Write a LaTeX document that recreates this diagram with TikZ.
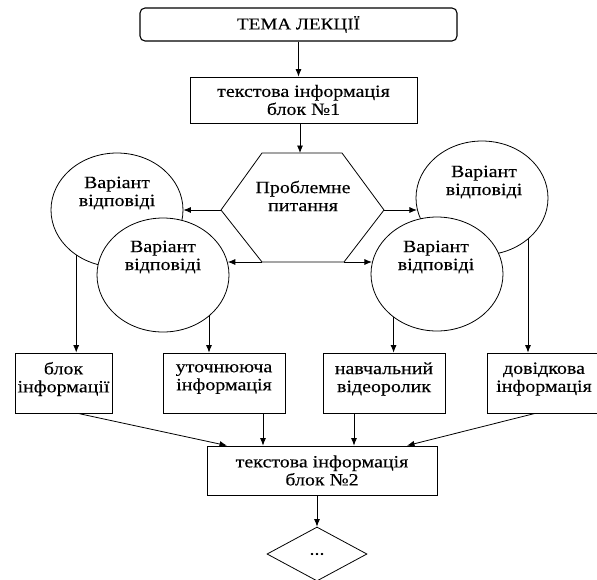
\documentclass[tikz,border=0pt]{standalone}
\usepackage{fontspec}
\setmainfont{Liberation Serif}[FakeStretch=1.16,FakeBold=0.25]
\usetikzlibrary{shapes.geometric,arrows.meta,calc}
\begin{document}
\begin{tikzpicture}[x=1pt,y=-1pt,
  line width=0.8pt,
  arr/.style={-{Latex[length=7.5pt,width=6pt]}},
  lbl/.style={align=center, inner sep=0pt, font=\fontsize{17.2}{18}\selectfont},
  box/.style={lbl, draw, rectangle, fill=white},
  ell/.style={draw, ellipse, minimum width=132pt, minimum height=114pt, inner sep=0pt, fill=white}
]
\useasboundingbox (0,0) rectangle (597,579);
\clip (0,0) rectangle (597,579);

% top blocks
\node[box, rounded corners=5pt, minimum width=317pt, minimum height=33pt, line width=1.1pt, font=\fontsize{16.5}{18}\selectfont] (t) at (298.5,24.5) {ТЕМА ЛЕКЦІЇ};
\node[box, minimum width=227pt, minimum height=46pt] (b1) at (303.5,100) {текстова інформація\\блок №1};

% hexagon
\coordinate (hL) at (221,210);
\coordinate (hTL) at (262,153);
\coordinate (hT) at (300,153);
\coordinate (hTR) at (342,153);
\coordinate (hR) at (384,210);
\coordinate (hBR) at (344,262);
\coordinate (hBL) at (262,262);
\draw (hL) -- (hTL) -- (hTR) -- (hR) -- (hBR) -- (hBL) -- cycle;
\node[lbl] (prob) at (303,196) {Проблемне\\питання};

% answer variants
\node[ell] (c1) at (117,210) {};
\node[lbl] (c1t) at (117,193) {Варіант\\відповіді};
\node[ell] (c2) at (163,275) {};
\node[lbl] (c2t) at (163,257) {Варіант\\відповіді};
\node[ell] (c3) at (482,198) {};
\node[lbl] (c3t) at (484,182) {Варіант\\відповіді};
\node[ell] (c4) at (437,274) {};
\node[lbl] (c4t) at (436,257) {Варіант\\відповіді};

% lower boxes (frames, then their texts)
\node[box, minimum width=97pt, minimum height=60pt] (bA) at (63.5,383) {};
\node[lbl] (bAt) at (63.5,379) {блок\\інформації};
\node[box, minimum width=122pt, minimum height=60pt] (bB) at (224,383) {};
\node[lbl] (bBt) at (224,379) {уточнююча\\інформація};
\node[box, minimum width=122pt, minimum height=60pt] (bC) at (384,383) {};
\node[lbl] (bCt) at (384,379) {навчальний\\відеоролик};
\node[box, minimum width=114pt, minimum height=60pt] (bD) at (544,383) {};
\node[lbl] (bDt) at (544,379) {довідкова\\інформація};

\node[box, minimum width=230pt, minimum height=49pt] (b2) at (322,470.5) {текстова інформація\\блок №2};
\node[lbl, draw, diamond, minimum width=100pt, minimum height=54pt] (d) at (317,554) {...};

% connectors
\draw[arr] (t.south) -- (t.south |- b1.north);
\draw[arr] (hT |- b1.south) -- (hT);
\draw[arr] (hL) -- (c1.east);
\draw[arr] (hBL) -- (hBL -| c2.11);
\draw[arr] (hR) -- (hR -| c3.190);
\draw[arr] (hBR) -- (hBR -| c4.170);

\draw[arr] (c1.228) -- (c1.228 |- bA.north);
\draw[arr] (c2.318) -- (c2.318 |- bB.north);
\draw[arr] (c4.225) -- (c4.225 |- bC.north);
\draw[arr] (c3.318) -- (c3.318 |- bD.north);

\draw[arr] ([xshift=14.5pt]bA.south) -- ([xshift=-95pt]b2.north);
\draw[arr] ([xshift=39pt]bB.south) -- ([xshift=39pt]bB.south |- b2.north);
\draw[arr] ([xshift=-30pt]bC.south) -- ([xshift=-30pt]bC.south |- b2.north);
\draw[arr] ([xshift=-9pt]bD.south) -- ([xshift=85pt]b2.north);
\draw[arr] (d.north |- b2.south) -- (d.north);
\end{tikzpicture}
\end{document}
